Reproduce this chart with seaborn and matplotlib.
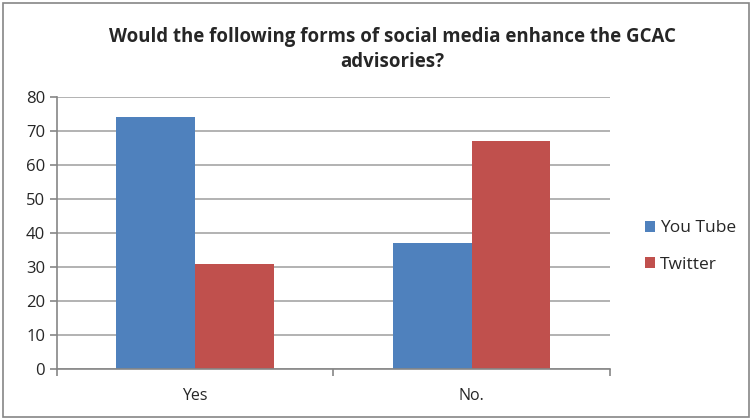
import pandas as pd
import matplotlib.pyplot as plt
import seaborn as sns
from matplotlib.patches import Rectangle

# Data
answers = ["Yes", "No."]
youtube = [74, 37]
twitter = [31, 67]
series_names = ["You Tube", "Twitter"]

df = pd.DataFrame({
    "answer": answers * 2,
    "value": youtube + twitter,
    "media": [series_names[0]] * 2 + [series_names[1]] * 2,
})

sns.set_style("white")
plt.rcParams['font.family'] = ['Open Sans', 'DejaVu Sans']

fig = plt.figure(figsize=(7.52, 4.19), dpi=100)
ax = fig.add_axes([0.0758, 0.1193, 0.735, 0.6492])

sns.barplot(data=df, x="answer", y="value", hue="media", order=answers,
            hue_order=series_names, palette=["#4F81BD", "#C0504D"],
            width=0.571, saturation=1, linewidth=0, ax=ax, legend=True)

ax.set_xlim(-0.5, 1.5)
ax.set_ylim(0, 80)
ax.set_yticks(range(0, 81, 10))
ax.yaxis.grid(True, color="#a6a6a6", linewidth=1.2)
ax.set_axisbelow(True)
ax.set_xlabel("")
ax.set_ylabel("")

# category boundary ticks on the x axis
ax.set_xticks([0, 1])
ax.set_xticks([-0.5, 0.5, 1.5], minor=True)
ax.tick_params(axis="x", which="major", length=0, labelsize=11.5, pad=14)
ax.tick_params(axis="x", which="minor", length=5, color="#868686", width=1.2, direction="out", bottom=True)
ax.tick_params(axis="y", length=5, color="#868686", width=1.2, direction="out", labelsize=12, left=True)

for side in ["top", "right"]:
    ax.spines[side].set_visible(False)
for side in ["left", "bottom"]:
    ax.spines[side].set_color("#868686")
    ax.spines[side].set_linewidth(1.2)

leg = ax.legend(loc="center left", bbox_to_anchor=(1.035, 0.45), frameon=False,
                fontsize=12.5, handlelength=0.6, handleheight=0.6,
                handletextpad=0.3, labelspacing=1.2)

fig.text(0.522, 0.882, "Would the following forms of social media enhance the GCAC\nadvisories?",
         ha="center", va="center", fontsize=13.4, fontweight="bold", linespacing=1.35)

# outer chart border
fig.patches.append(Rectangle((0.004, 0.004), 0.992, 0.99, transform=fig.transFigure,
                             fill=False, edgecolor="#868686", linewidth=1.2))

fig.savefig("out.png", dpi=100)
